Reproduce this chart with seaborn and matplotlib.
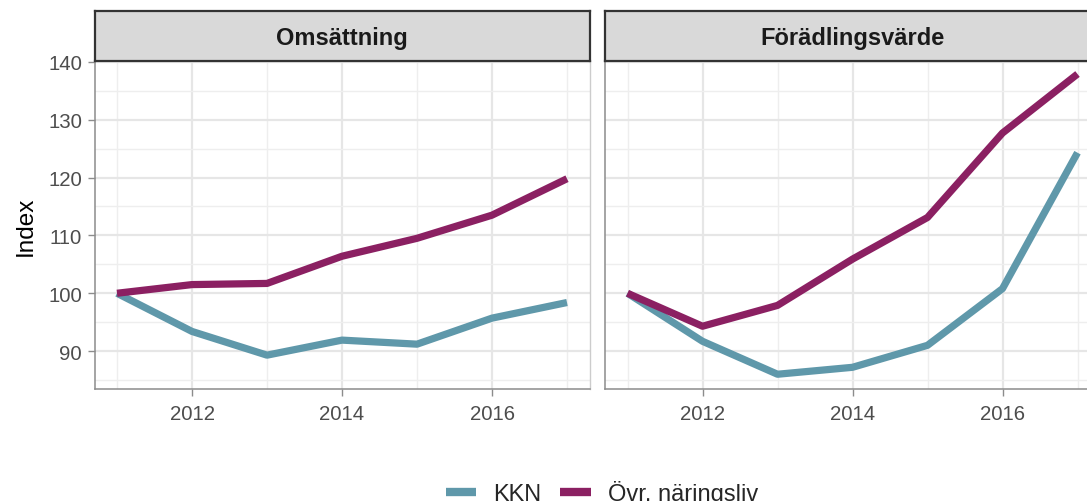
import pandas as pd
import matplotlib.pyplot as plt
import seaborn as sns
from matplotlib.ticker import MultipleLocator

# data
years = [2011, 2012, 2013, 2014, 2015, 2016, 2017]
oms_kkn = [100.0, 93.4, 89.3, 91.9, 91.2, 95.7, 98.4]
oms_ovr = [100.0, 101.5, 101.7, 106.4, 109.5, 113.5, 119.8]
fv_kkn = [100.0, 91.7, 86.0, 87.2, 91.0, 100.8, 124.3]
fv_ovr = [100.0, 94.3, 97.9, 105.9, 113.1, 127.7, 137.9]

panels = ["Omsättning", "Förädlingsvärde"]
groups = ["KKN", "Övr. näringsliv"]
colors = {"KKN": "#5F98AA", "Övr. näringsliv": "#8B2062"}

rows = []
for panel, series in zip(panels, [(oms_kkn, oms_ovr), (fv_kkn, fv_ovr)]):
    for grp, vals in zip(groups, series):
        for yr, v in zip(years, vals):
            rows.append({"panel": panel, "group": grp, "year": yr, "index": v})
df = pd.DataFrame(rows)

sns.set_theme(style="white")
plt.rcParams["font.family"] = ["Liberation Sans", "DejaVu Sans"]

W, H = 1087, 502
fig = plt.figure(figsize=(W / 100, H / 100), dpi=100)

lefts = [94.5, 605]
pw = 495
for i, panel in enumerate(panels):
    ax = fig.add_axes([lefts[i] / W, 1 - 390 / H, pw / W, 328 / H])
    sns.lineplot(data=df[df["panel"] == panel], x="year", y="index", hue="group",
                 palette=colors, linewidth=5.2, ax=ax, legend=False,
                 solid_capstyle="butt")
    ax.set_xlim(2010.7, 2017.3)
    ax.set_ylim(83.45, 140.15)
    ax.xaxis.set_major_locator(MultipleLocator(2))
    ax.xaxis.set_minor_locator(MultipleLocator(1))
    ax.yaxis.set_major_locator(MultipleLocator(10))
    ax.yaxis.set_minor_locator(MultipleLocator(5))
    ax.grid(which="major", color="#e6e6e6", linewidth=1.6)
    ax.grid(which="minor", color="#eeeeee", linewidth=1.0)
    ax.set_axisbelow(True)
    ax.set_xlabel("")
    ax.set_ylabel("Index" if i == 0 else "", fontsize=17.5, color="black", labelpad=8)
    ax.tick_params(axis="both", which="major", labelsize=14.7, colors="#4d4d4d",
                   length=5, width=1, color="#8c8c8c", left=True, bottom=True, pad=4)
    ax.tick_params(axis="x", which="major", pad=6)
    ax.tick_params(axis="both", which="minor", length=0)
    if i == 1:
        ax.tick_params(axis="y", labelleft=False, left=False)
    ax.spines["top"].set_visible(False)
    for s in ["left", "bottom"]:
        ax.spines[s].set_color("#8c8c8c")
        ax.spines[s].set_linewidth(1.1)
    ax.spines["right"].set_color("#cccccc")
    ax.spines["right"].set_linewidth(1.0)

    # facet strip
    sax = fig.add_axes([lefts[i] / W, 1 - 62 / H, pw / W, 50 / H])
    sax.set_facecolor("#d9d9d9")
    sax.set_xticks([])
    sax.set_yticks([])
    for s in sax.spines.values():
        s.set_color("#333333")
        s.set_linewidth(1.6)
    sax.text(0.5, 0.47, panel, ha="center", va="center", fontsize=17,
             fontweight="bold", color="#1a1a1a", transform=sax.transAxes)

handles = [plt.Line2D([0], [0], color=colors[g], linewidth=6, solid_capstyle="butt")
           for g in groups]
fig.legend(handles, groups, loc="center", bbox_to_anchor=(602 / W, 1 - 494 / H),
           ncol=2, frameon=False, fontsize=17, handlelength=1.3,
           handletextpad=0.72, columnspacing=0.8)

fig.savefig("out.png", dpi=100)
